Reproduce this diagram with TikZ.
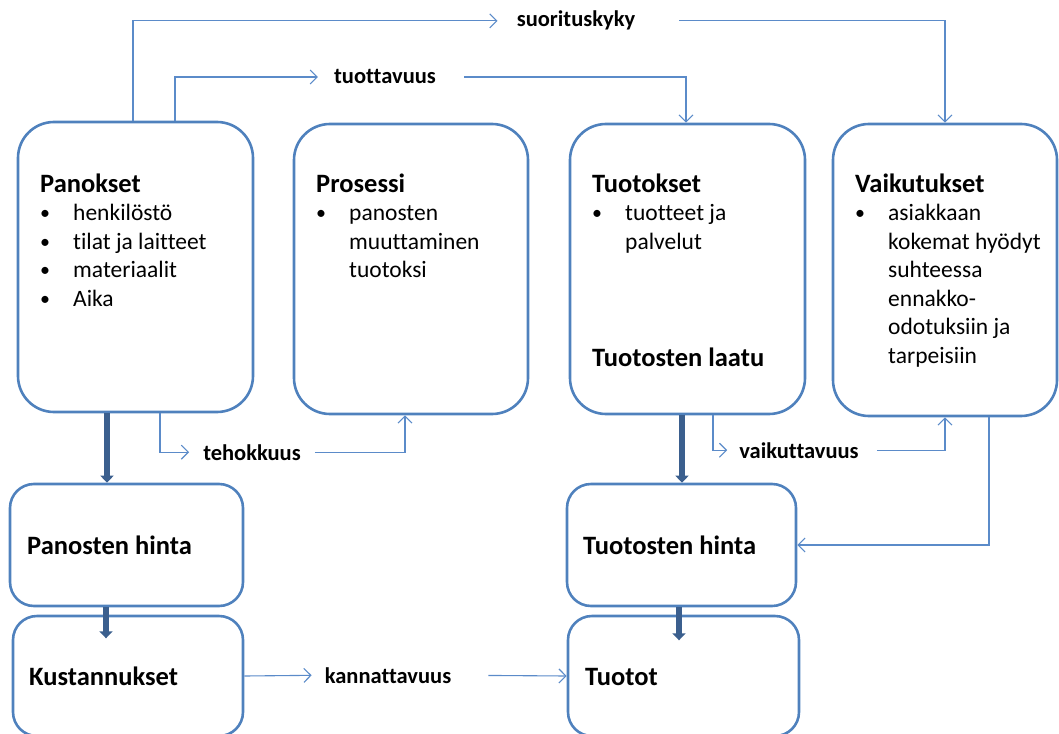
\documentclass[tikz,border=0pt]{standalone}
\usepackage{fontspec}
\setmainfont{Carlito}[Ligatures=NoCommon]
\usetikzlibrary{arrows.meta,positioning}
\definecolor{boxblue}{HTML}{4F81BD}
\definecolor{linkblue}{HTML}{5B8BC9}
\definecolor{darkblue}{HTML}{3B5F8E}
\newcommand{\bul}{\makebox[33pt][l]{\raisebox{1pt}{\scalebox{0.85}{\textbullet}}}}
\newcommand{\ind}{\makebox[33pt]{}}
\newcommand{\ttl}[1]{{\bfseries\fontsize{26.5}{28.5}\selectfont #1}}

\begin{document}
\begin{tikzpicture}[x=1pt,y=-1pt,
  box/.style={draw=boxblue,line width=2.6pt,rounded corners=36pt,inner sep=0pt},
  smallbox/.style={box,rounded corners=24pt},
  txt/.style={anchor=base west,align=left,inner sep=0pt,font=\fontsize{23.5}{28.5}\selectfont},
  lbl/.style={anchor=base,inner sep=0pt,font=\bfseries\fontsize{22.5}{24}\selectfont},
  link/.style={draw=linkblue,line width=1.1pt,-{Straight Barb[length=7pt,width=14pt]}},
  heavy/.style={draw=darkblue,line width=6pt,-{Triangle[length=7pt,width=13pt]}}]
\useasboundingbox (0,0) rectangle (1059,733);
\clip (0,0) rectangle (1059,733);
% upper row
\node (p1) [box,minimum width=235pt,minimum height=290pt] at (135.5,267) {};
\node (p2) [box,minimum width=234pt,minimum height=290pt] at (411,269) {};
\node (p3) [box,minimum width=235pt,minimum height=290pt] at (687.5,269) {};
\node (p4) [box,minimum width=224pt,minimum height=292pt] at (945,270) {};
% lower rows
\node (h1) [smallbox,minimum width=233pt,minimum height=122pt] at (126.5,545) {};
\node (k1) [smallbox,minimum width=230pt,minimum height=120pt] at (128,676) {};
\node (h2) [smallbox,minimum width=229pt,minimum height=122pt] at (681.5,545) {};
\node (k2) [smallbox,minimum width=231pt,minimum height=120pt] at (683.5,676) {};
% texts (base = last line)
\node (x1) [txt] at (40,306) {\ttl{Panokset}\\ \bul henkilöstö\\ \bul tilat ja laitteet\\ \bul materiaalit\\ \bul Aika};
\node (x2) [txt] at (316,277.5) {\ttl{Prosessi}\\ \bul panosten\\ \ind muuttaminen\\ \ind tuotoksi};
\node (x3) [txt] at (592,249) {\ttl{Tuotokset}\\ \bul tuotteet ja\\ \ind palvelut};
\node (x3b) [txt] at (592,366) {\ttl{Tuotosten laatu}};
\node (x4) [txt] at (855,363) {\ttl{Vaikutukset}\\ \bul asiakkaan\\ \ind kokemat hyödyt\\ \ind suhteessa\\ \ind ennakko-\\ \ind odotuksiin ja\\ \ind tarpeisiin};
\node (y1) [txt] at (27,554) {\ttl{Panosten hinta}};
\node (y2) [txt] at (29,685) {\ttl{Kustannukset}};
\node (y3) [txt] at (583,554) {\ttl{Tuotosten hinta}};
\node (y4) [txt] at (585,685) {\ttl{Tuotot}};
% labels
\node (s1) [lbl] at (576,27) {suorituskyky};
\node (s2) [lbl] at (385,84) {tuottavuus};
\node (s3) [lbl] at (252,460) {tehokkuus};
\node (s4) [lbl] at (799,458) {vaikuttavuus};
\node (s5) [lbl] at (388,683) {kannattavuus};
%
\draw[link,shorten >=19pt] (133,0 |- p1.north) |- (s1.west);
\draw[link,shorten <=44pt] (s1.east) -| (p4.north);
\draw[link,shorten >=16pt] (175,0 |- p1.north) |- (s2.west);
\draw[link,shorten <=28pt] (s2.east) -| (686,0 |- p3.north);
\draw[link,shorten >=14pt] (160,0 |- p1.south) |- (s3.west);
\draw[link,shorten <=14pt] (s3.east) -| (405,0 |- p2.south);
\draw[link,shorten >=12pt] (713,0 |- p3.south) |- (s4.west);
\draw[link,shorten <=18pt] (s4.east) -| (p4.south);
\draw[link] (989,0 |- p4.south) |- (h2.east);
\draw[link,shorten >=13pt] (k1.east) -- (s5.west);
\draw[link,shorten <=37pt] (s5.east) -- (k2.west);
%
\draw[heavy] (107,0 |- p1.south) -- (107,0 |- h1.north);
\draw[heavy] (106,0 |- h1.south) -- ++(0,31);
\draw[heavy] (682,0 |- p3.south) -- (682,0 |- h2.north);
\draw[heavy] (679,0 |- h2.south) -- ++(0,33);
\end{tikzpicture}
\end{document}
